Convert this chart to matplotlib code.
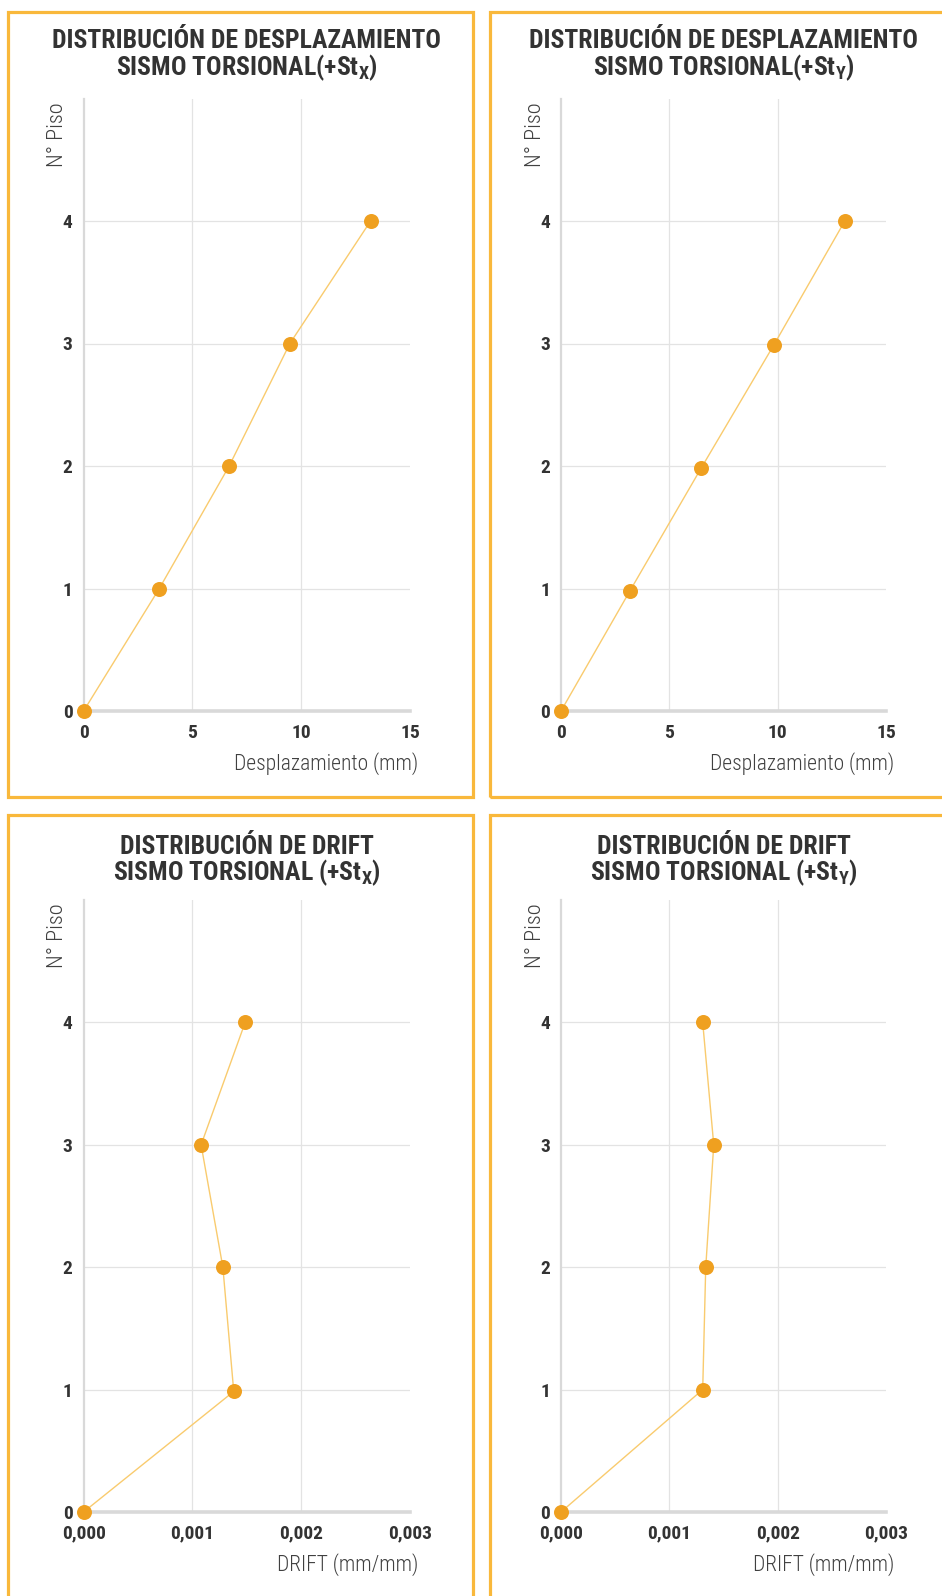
import matplotlib
matplotlib.use("Agg")
import matplotlib.pyplot as plt
from matplotlib.patches import Rectangle
from matplotlib.ticker import FuncFormatter

# ---------------- data ----------------
pisos_x = [0, 1, 2, 3, 4]
desp_stx = [0.0, 3.48, 6.69, 9.48, 13.19]

pisos_y = [0, 0.98, 1.98, 2.99, 4.0]
desp_sty = [0.0, 3.18, 6.46, 9.83, 13.10]

pisos_dx = [0, 0.985, 2, 3, 4]
drift_stx = [0.0, 0.00138, 0.00128, 0.00108, 0.001485]

pisos_dy = [0, 1, 2, 3, 4]
drift_sty = [0.0, 0.001308, 0.001336, 0.00141, 0.001308]

desp_ticks = [0, 5, 10, 15]
drift_ticks = [0.0, 0.001, 0.002, 0.003]
piso_ticks = [0, 1, 2, 3, 4]

titles = [
    ("DISTRIBUCIÓN DE DESPLAZAMIENTO", r"SISMO TORSIONAL(+St$_{\mathregular{X}}$)"),
    ("DISTRIBUCIÓN DE DESPLAZAMIENTO", r"SISMO TORSIONAL(+St$_{\mathregular{Y}}$)"),
    ("DISTRIBUCIÓN DE DRIFT", r"SISMO TORSIONAL (+St$_{\mathregular{X}}$)"),
    ("DISTRIBUCIÓN DE DRIFT", r"SISMO TORSIONAL (+St$_{\mathregular{Y}}$)"),
]
xlabels = ["Desplazamiento (mm)", "Desplazamiento (mm)", "DRIFT (mm/mm)", "DRIFT (mm/mm)"]
ylabel = "N° Piso"

# ---------------- style ----------------
W, H = 942, 1596
FONT = ["Roboto Condensed", "DejaVu Sans"]
plt.rcParams["font.family"] = FONT
BORDER = "#F9B83B"
MARK = "#EFA020"
LINE = "#F9CB6E"
GRID = "#E3E3E3"
SPINE = "#D9D9D9"
TXT = "#333333"
LAB = "#404040"

fig = plt.figure(figsize=(W / 100, H / 100), dpi=100)
fig.patch.set_facecolor("white")


def frect(x0, y0, x1, y1):
    return (x0 / W, 1 - y1 / H, (x1 - x0) / W, (y1 - y0) / H)


# panel borders (pixel coords)
panels = [(8, 12, 473, 797), (490, 12, 960, 797), (8, 815, 473, 1620), (490, 815, 960, 1620)]
for (x0, y0, x1, y1) in panels:
    l, b, w, h = frect(x0, y0, x1, y1)
    fig.patches.append(Rectangle((l, b), w, h, transform=fig.transFigure, fill=False,
                                 edgecolor=BORDER, linewidth=2.3, zorder=0))

# axes areas (pixel coords)
axes_px = [(83.6, 98.5, 410, 711), (561, 98.5, 886, 711),
           (83.6, 900, 410, 1512), (561, 900, 886, 1512)]
title_y = [(41, 68), (41, 68), (847, 873), (847, 873)]

series = [(desp_stx, pisos_x, desp_ticks, False),
          (desp_sty, pisos_y, desp_ticks, False),
          (drift_stx, pisos_dx, drift_ticks, True),
          (drift_sty, pisos_dy, drift_ticks, True)]

for i, ((x0, y0, x1, y1), (xs, ys, xt, is_drift)) in enumerate(zip(axes_px, series)):
    ax = fig.add_axes(frect(x0, y0, x1, y1))
    ax.set_xlim(xt[0], xt[-1])
    ax.set_ylim(0, 5)
    for t in xt[1:-1]:
        ax.axvline(t, color=GRID, lw=0.9, zorder=1)
    for t in piso_ticks[1:]:
        ax.axhline(t, color=GRID, lw=0.9, zorder=1)
    ax.plot(xs, ys, color=LINE, lw=1.0, zorder=3, clip_on=False)
    ax.plot(xs, ys, linestyle="none", marker="o", ms=10.8, color=MARK,
            markeredgewidth=0, zorder=4, clip_on=False)
    ax.set_xticks(xt)
    ax.set_yticks(piso_ticks)
    if is_drift:
        ax.xaxis.set_major_formatter(FuncFormatter(lambda v, p: f"{v:.3f}".replace(".", ",")))
    else:
        ax.xaxis.set_major_formatter(FuncFormatter(lambda v, p: f"{v:g}"))
    ax.tick_params(length=0, labelsize=14, labelcolor=TXT)
    ax.tick_params(axis="x", pad=9)
    ax.tick_params(axis="y", pad=8)
    for lab in ax.get_xticklabels() + ax.get_yticklabels():
        lab.set_fontweight(600)
    for s in ["top", "right"]:
        ax.spines[s].set_visible(False)
    ax.spines["left"].set_color(SPINE)
    ax.spines["left"].set_linewidth(1.6)
    ax.spines["bottom"].set_color(SPINE)
    ax.spines["bottom"].set_linewidth(2.6)
    ax.set_facecolor("none")

    aw = x1 - x0
    ah = y1 - y0
    ax.text(1 + 8 / aw, -53 / ah, xlabels[i], transform=ax.transAxes, ha="right",
            va="center", fontsize=15.5, fontweight=300, color=LAB)
    ax.text(-25.6 / aw, 1 - 3.5 / ah, ylabel, transform=ax.transAxes, ha="center",
            va="top", rotation=90, fontsize=16, fontweight=300, color=LAB)

    cx = (x0 + x1) / 2 / W
    t1, t2 = titles[i]
    fig.text(cx, 1 - title_y[i][0] / H, t1, ha="center", va="center", fontsize=18.5,
             fontweight="bold", color=TXT)
    fig.text(cx, 1 - title_y[i][1] / H, t2, ha="center", va="center", fontsize=18.5,
             fontweight="bold", color=TXT)

fig.savefig("out.png", dpi=100, facecolor="white")
